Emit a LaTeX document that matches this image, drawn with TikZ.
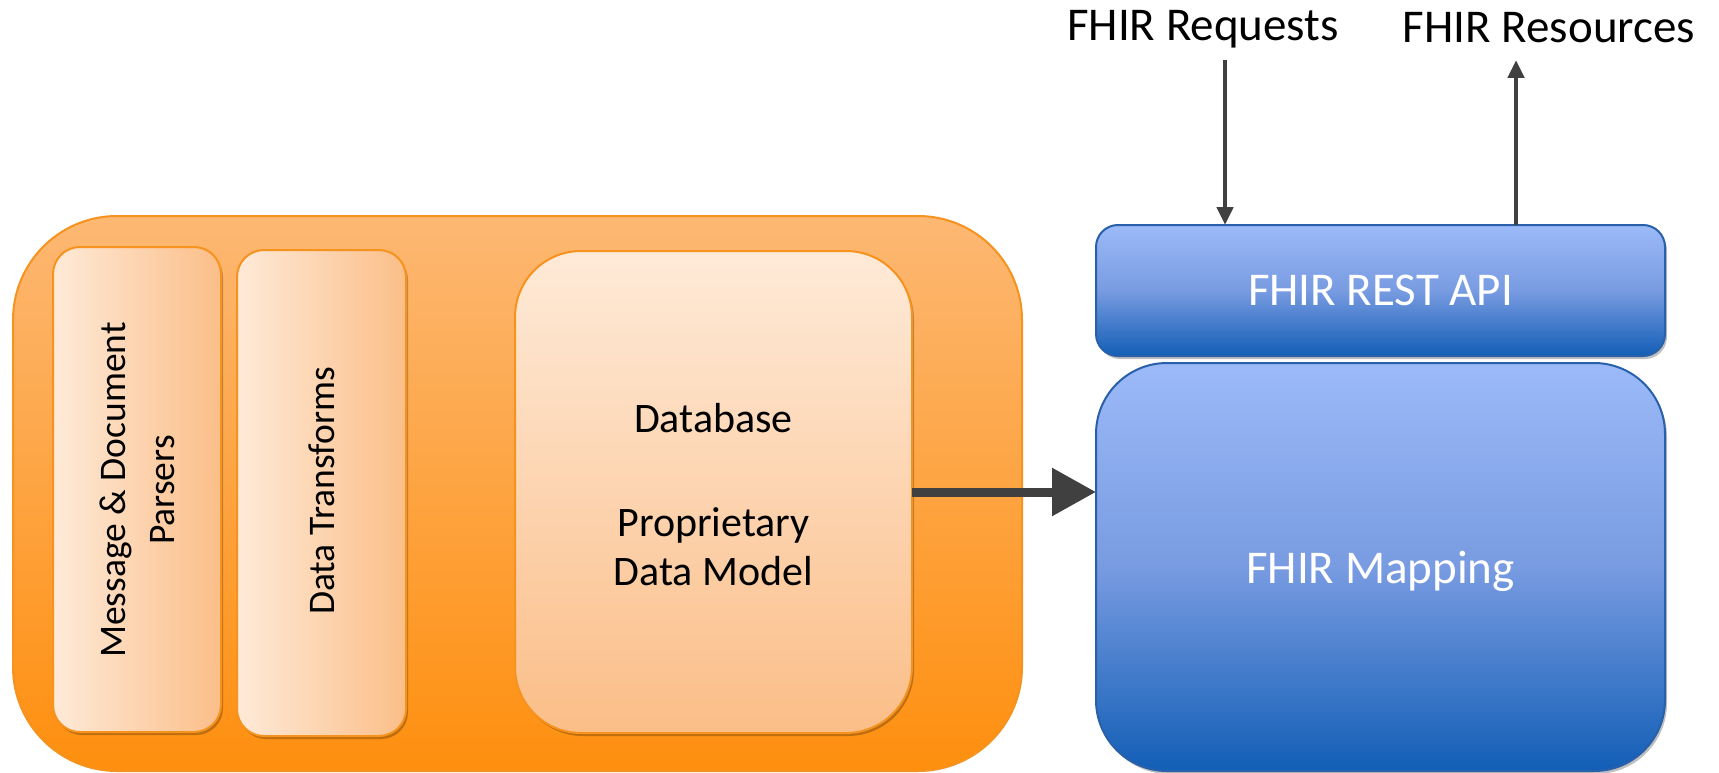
\documentclass[tikz,border=0pt]{standalone}
\usepackage{fontspec}
\setmainfont{Carlito}
\usetikzlibrary{arrows.meta,shadows}
\definecolor{orTop}{RGB}{253,184,115}
\definecolor{orBot}{RGB}{254,143,14}
\definecolor{orLine}{RGB}{246,146,30}
\definecolor{inLight}{RGB}{254,234,216}
\definecolor{inDark}{RGB}{251,190,136}
\definecolor{blTop}{RGB}{156,186,248}
\definecolor{blMid}{RGB}{120,155,225}
\definecolor{blBot}{RGB}{18,94,182}
\definecolor{blLine}{RGB}{40,96,170}
\definecolor{arr}{RGB}{64,64,64}
\tikzset{
  box/.style={rectangle, inner sep=0pt, outer sep=0pt, line width=2pt},
  shad/.style={drop shadow={shadow xshift=2pt, shadow yshift=-3pt, opacity=0.25, fill=black}},
  outerbox/.style={box, draw=orLine, top color=orTop, bottom color=orBot, rounded corners=104pt},
  innerh/.style={box, draw=orLine, left color=inLight, right color=inDark, rounded corners=27pt, shad},
  innerv/.style={box, draw=orLine, top color=inLight, bottom color=inDark, rounded corners=66pt, shad},
  bluebox/.style={box, draw=blLine, shad, text=white, font=\fontsize{47}{56}\selectfont},
  toplabel/.style={font=\fontsize{47}{56}\selectfont, inner sep=0pt},
  rottext/.style={rotate=90, align=center, font=\fontsize{37.5}{49}\selectfont, inner sep=0pt},
  thinarrow/.style={draw=arr, line width=4.5pt, -{Triangle[length=18pt, width=16pt]}},
  thickarrow/.style={draw=arr, line width=9pt, -{Triangle[length=44pt, width=46pt]}}
}
\begin{document}
\begin{tikzpicture}[x=1pt, y=-1pt]
\useasboundingbox (0,0) rectangle (1719,773);
% orange group
\node[outerbox, minimum width=1009pt, minimum height=555pt] (grp) at (517.5,493.5) {};
\node[innerh, minimum width=168pt, minimum height=485pt] (pars) at (137,489.5) {};
\node[rottext] (parsT) at (137,490) {Message \& Document\\Parsers};
\node[innerh, minimum width=169pt, minimum height=486pt] (trans) at (321.5,493) {};
\node[rottext] (transT) at (321.5,491) {Data Transforms};
\node[innerv, minimum width=397pt, minimum height=482pt] (db) at (713.5,492) {};
\node[align=center, font=\fontsize{42}{49}\selectfont, inner sep=0pt] (dbT) at (713.5,495) {Database\\[55pt]Proprietary\\Data Model};
% blue boxes
\node[bluebox, rounded corners=22pt, minimum width=569pt, minimum height=131pt, text depth=0pt,
      top color=blTop, bottom color=blBot, middle color=blMid] (rest) at (1380.5,290.5) {FHIR REST API};
\node[bluebox, rounded corners=71pt, minimum width=569pt, minimum height=408pt, text depth=0pt,
      top color=blTop, bottom color=blBot, middle color=blMid] (map) at (1380.5,567) {FHIR Mapping};
% top labels
\node[toplabel] (req) at (1203,29) {FHIR Requests};
\node[toplabel] (res) at (1549,28) {FHIR Resources};
\coordinate (reqS) at (1225,60);
\coordinate (resE) at (1516,60);
% arrows
\draw[thinarrow] (reqS) -- (reqS |- rest.north);
\draw[thinarrow] (resE |- rest.north) -- (resE);
\draw[thickarrow] (db.east) -- (db.east -| map.west);
\end{tikzpicture}
\end{document}
